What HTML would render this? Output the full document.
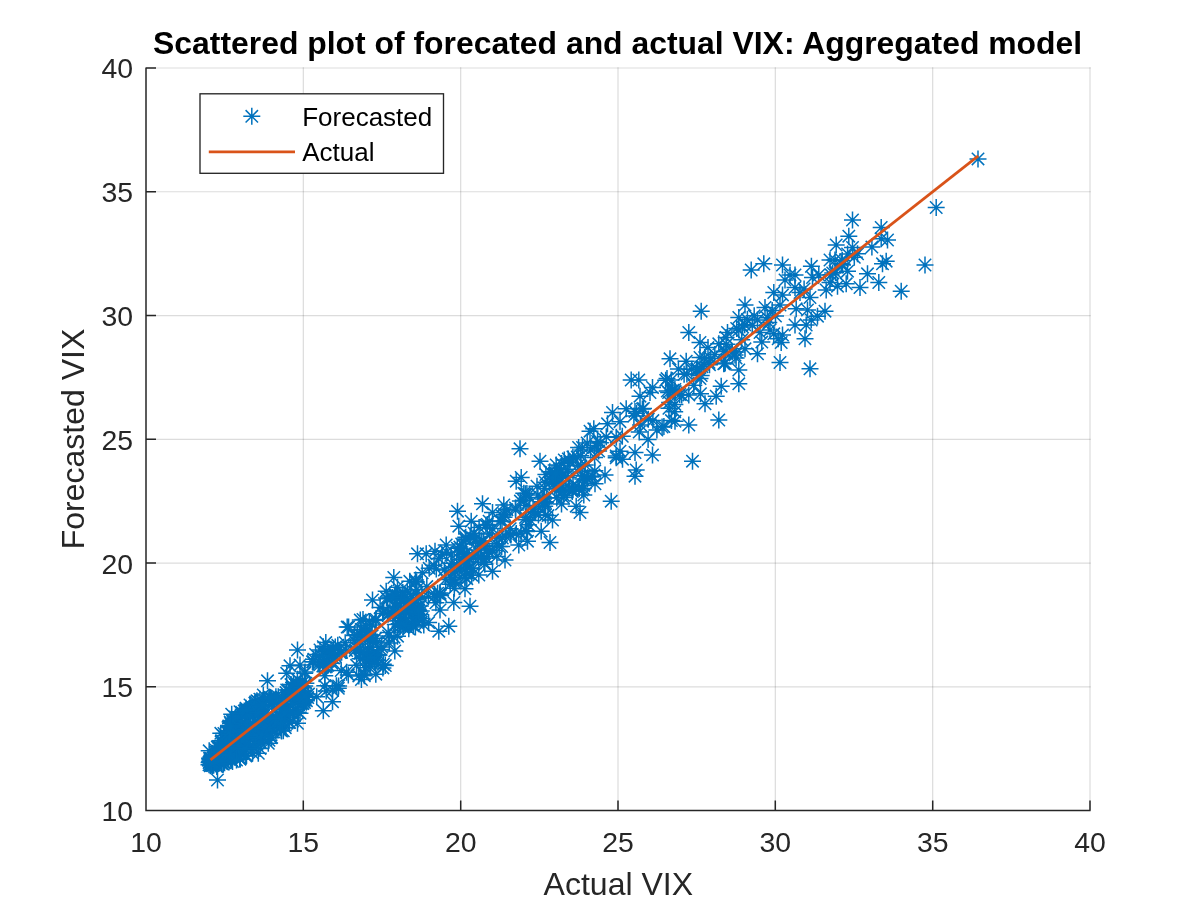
<!DOCTYPE html>
<html><head><meta charset="utf-8"><title>Scattered plot of forecated and actual VIX</title>
<style>html,body{margin:0;padding:0;background:#fff}body{width:1200px;height:911px;overflow:hidden}</style></head>
<body>
<svg width="1200" height="911" viewBox="0 0 1200 911" style="display:block" font-family="'Liberation Sans', Arial, Helvetica, sans-serif">
<defs><marker id="ast" markerUnits="userSpaceOnUse" markerWidth="20" markerHeight="20" refX="10" refY="10" viewBox="0 0 20 20" orient="0" overflow="visible"><path d="M1.5 10H18.5M10 1.5V18.5M3.8 3.8L16.2 16.2M3.8 16.2L16.2 3.8" stroke="#0072BD" stroke-width="1.5" fill="none"/></marker></defs>
<rect width="1200" height="911" fill="#fff"/>
<path d="M303.33 810.6V67.3M460.67 810.6V67.3M618.00 810.6V67.3M775.33 810.6V67.3M932.67 810.6V67.3M1090.00 810.6V67.3" stroke="#262626" stroke-opacity="0.16" stroke-width="1.2" fill="none"/>
<path d="M146.0 686.83H1090.7M146.0 563.07H1090.7M146.0 439.30H1090.7M146.0 315.53H1090.7M146.0 191.77H1090.7M146.0 68.00H1090.7" stroke="#262626" stroke-opacity="0.16" stroke-width="1.2" fill="none"/>
<path d="M146.0 67.4V810.6H1090.6M146.0 810.6v-10M146.0 810.6h10M303.3 810.6v-10M146.0 686.8h10M460.7 810.6v-10M146.0 563.1h10M618.0 810.6v-10M146.0 439.3h10M775.3 810.6v-10M146.0 315.5h10M932.7 810.6v-10M146.0 191.8h10M1090.0 810.6v-10M146.0 68.0h10" stroke="#262626" stroke-width="1.5" fill="none"/>
<polyline points="217.5,780.0 209.2,750.8 267.5,680.8 297.5,650.0 323.3,710.8 332.5,701.7 316.7,696.7 338.3,688.3 348.3,675.0 364.2,674.2 375.8,674.2 383.3,664.2 290.0,665.8 286.7,673.3 300.0,665.0 313.3,661.7 323.3,646.7 320.0,650.0 333.3,650.0 223.3,764.2 240.0,759.2 258.3,753.3 268.3,743.3 283.3,730.8 297.5,723.3 300.0,713.3 220.8,733.3 231.7,714.2 240.0,711.7 250.0,705.0 263.3,695.0 278.3,696.7 286.7,690.0 372.5,600.0 393.8,577.5 386.2,591.2 417.5,553.8 426.2,553.8 435.0,551.2 446.2,545.0 457.5,511.2 458.8,526.2 471.2,521.2 482.5,503.8 492.5,512.5 503.8,505.0 397.5,636.2 408.8,628.8 423.8,625.0 438.8,631.2 448.8,626.2 440.0,610.0 453.8,602.5 470.0,606.2 465.0,588.8 478.8,575.0 492.5,571.2 505.0,560.0 518.8,545.0 527.5,541.2 550.0,542.5 541.2,531.2 552.5,520.0 580.0,512.5 576.2,506.2 611.2,501.2 521.2,477.5 516.2,481.2 520.0,448.8 540.0,461.2 556.2,465.0 570.0,462.5 582.5,447.5 593.8,428.8 590.0,431.2 607.5,423.8 612.5,412.5 626.2,408.8 640.0,396.2 650.0,392.5 583.8,495.0 595.0,483.8 605.0,475.0 635.0,476.2 636.2,470.0 652.5,455.0 635.0,452.5 620.0,451.2 692.5,461.2 688.8,425.0 718.8,420.0 675.0,421.2 705.0,403.8 716.2,396.2 631.2,380.0 638.8,380.0 652.5,387.5 671.2,380.0 670.0,358.8 686.2,361.2 688.8,332.5 701.2,311.2 700.0,342.5 700.0,357.5 718.8,343.8 727.5,332.5 738.8,317.5 745.0,305.0 765.0,307.5 773.8,292.5 751.2,270.0 785.0,280.0 795.0,275.0 738.8,383.8 738.8,370.0 780.0,362.5 810.0,368.8 805.0,338.8 781.2,342.5 795.0,325.0 811.2,320.0 825.0,311.2 817.5,316.2 860.0,287.5 878.8,282.5 901.2,291.2 846.2,283.8 837.5,286.2 867.5,273.8 763.8,263.8 782.5,265.0 738.8,330.0 757.5,320.0 780.0,305.0 790.0,275.0 795.0,287.5 800.0,292.5 812.5,277.5 818.8,275.0 810.0,297.5 796.2,308.8 807.5,310.0 806.2,325.0 770.0,330.0 773.8,333.8 782.5,335.0 757.5,353.8 745.0,348.8 735.0,355.0 723.8,363.8 721.2,386.2 768.8,322.5 760.0,332.5 830.0,282.5 826.2,290.0 882.5,263.8 886.2,261.2 925.0,265.0 830.0,260.0 835.0,260.0 836.2,245.0 842.5,265.0 848.8,236.2 852.5,247.5 857.5,253.8 852.5,220.0 881.2,227.5 881.2,238.8 887.5,240.0 936.2,207.5 978.0,158.9 216.4,764.4 224.0,762.4 221.3,755.6 210.3,761.0 209.9,762.1 210.6,765.6 218.8,746.4 211.8,764.0 223.4,735.7 222.3,753.8 231.5,760.3 228.7,751.9 212.3,765.5 216.1,750.2 213.2,757.9 223.7,753.2 221.6,763.8 210.4,764.3 224.6,750.5 216.2,755.1 219.4,758.9 227.3,737.9 214.6,756.9 221.1,741.9 225.8,754.2 231.5,757.2 218.6,748.3 212.5,759.8 209.9,759.7 226.6,743.4 229.1,750.6 225.0,744.6 222.3,752.0 228.3,727.0 219.9,749.0 210.4,758.8 223.9,733.4 227.9,752.7 217.9,751.3 209.5,762.0 212.9,765.6 210.4,758.2 212.0,763.6 218.0,746.4 210.9,761.3 221.6,740.7 227.8,730.9 215.4,759.5 217.3,747.1 231.0,756.0 213.1,763.7 214.4,758.8 222.5,757.5 209.1,762.6 217.5,754.2 230.9,733.1 220.9,749.2 224.6,762.8 229.7,731.2 229.1,731.4 218.0,757.6 211.4,758.6 210.4,765.8 213.8,764.9 216.8,766.4 209.0,764.8 211.3,762.2 209.6,758.2 223.1,760.5 214.8,761.3 240.4,753.5 256.9,700.8 243.8,734.0 230.9,758.2 239.6,746.8 256.2,744.0 228.8,725.9 246.0,749.7 246.5,755.4 246.0,708.2 257.4,715.8 236.9,743.4 233.7,726.7 246.1,718.1 239.2,749.1 255.6,702.0 257.0,710.4 255.8,714.5 235.7,737.0 240.1,758.2 228.9,752.1 236.8,728.0 260.5,726.4 259.9,699.2 260.5,730.7 235.5,750.6 234.7,752.0 249.2,710.3 256.6,727.4 250.2,714.8 230.9,734.5 258.9,710.4 253.5,729.2 234.1,725.6 239.3,721.0 261.0,728.6 241.6,712.3 252.6,745.3 232.3,755.4 258.8,709.2 233.0,724.8 261.3,715.1 239.9,732.8 232.5,761.4 261.0,715.7 245.9,710.5 242.7,715.4 256.1,741.5 236.6,747.0 236.2,733.5 236.8,740.9 232.5,721.5 240.0,737.2 247.8,710.8 242.3,713.4 245.1,730.9 245.8,756.1 243.0,749.3 228.1,732.9 233.9,740.1 252.7,725.6 239.1,734.8 246.9,717.4 231.6,737.9 236.4,747.8 254.3,727.2 247.1,718.5 259.0,727.8 248.8,730.3 245.4,722.8 243.4,731.8 244.3,711.1 251.8,709.9 260.0,736.4 247.0,709.4 256.6,745.1 232.1,742.5 230.5,752.6 230.5,734.6 254.7,707.1 233.3,729.6 250.4,747.7 258.0,701.4 235.5,717.0 241.5,735.0 261.7,705.9 233.5,742.2 245.5,740.3 234.7,746.8 252.6,753.0 246.8,734.6 228.6,750.3 249.2,729.7 230.2,722.0 254.8,703.2 231.6,750.8 229.3,731.8 237.2,754.4 242.4,713.6 255.8,739.2 233.1,720.6 247.4,721.3 231.0,760.0 251.4,733.0 230.5,723.4 249.6,715.0 230.8,726.2 230.3,726.9 243.4,741.3 246.8,710.3 237.1,754.5 245.9,745.1 231.7,755.2 229.7,754.7 238.6,745.4 253.8,738.6 245.0,748.6 239.8,758.8 236.5,760.0 252.9,725.8 267.1,720.9 302.9,703.6 297.3,701.4 281.8,698.3 276.9,714.7 291.0,684.6 274.4,702.2 291.9,697.8 277.4,720.8 260.6,742.5 261.4,710.8 270.3,733.3 262.1,705.2 299.8,688.3 271.5,728.9 272.1,719.1 265.6,723.2 270.6,697.4 304.7,686.1 269.7,697.3 272.9,723.1 258.1,731.7 280.8,712.0 267.6,719.3 258.2,737.6 262.3,727.4 260.0,748.6 272.6,728.6 286.1,706.8 294.0,695.1 292.4,687.5 276.7,722.1 305.3,699.7 292.8,696.7 260.1,706.8 300.8,688.4 293.2,689.5 264.7,719.8 282.2,697.9 296.6,685.8 286.0,692.6 290.8,696.4 269.0,740.3 264.4,728.0 263.0,704.8 284.8,704.0 288.1,699.3 281.5,731.0 296.3,689.4 282.1,709.7 289.6,722.4 293.4,712.1 261.6,734.8 293.0,714.3 293.5,682.5 281.7,716.0 281.0,704.8 294.8,696.1 288.9,722.6 265.1,732.8 293.7,709.8 285.3,727.7 260.9,735.2 290.3,696.9 290.4,712.9 282.8,711.9 280.4,727.4 300.9,704.2 305.0,671.9 258.8,727.1 297.4,679.3 279.6,722.2 268.1,698.5 268.1,715.4 264.8,719.7 303.7,701.7 297.4,698.1 300.6,685.9 269.1,700.5 281.3,730.3 258.2,725.9 279.6,720.9 264.8,728.6 273.2,702.2 258.1,712.6 298.3,712.3 302.5,682.8 301.3,700.1 275.9,719.8 305.9,683.2 275.3,718.7 271.2,737.8 262.9,705.0 271.7,698.3 270.0,728.9 282.5,722.8 275.9,696.8 300.4,682.0 288.3,689.9 303.2,687.6 292.5,721.0 293.2,704.2 294.1,695.5 271.7,737.3 302.5,703.6 280.7,718.4 272.3,706.8 304.9,696.1 289.5,713.2 284.8,713.1 304.2,700.3 304.7,673.2 308.5,694.1 313.8,659.2 307.8,697.6 304.5,702.5 306.4,700.7 305.1,695.9 312.5,661.8 323.7,651.5 325.3,667.1 327.9,665.2 335.0,656.2 331.5,654.8 319.8,664.8 329.0,652.4 331.9,663.2 326.4,666.4 337.8,645.3 329.0,656.3 340.0,652.4 331.0,649.2 328.6,658.0 324.8,675.8 325.8,642.6 332.8,653.5 333.4,658.1 318.3,664.1 335.3,647.0 315.6,654.5 322.8,666.1 341.6,652.3 341.2,670.6 322.2,656.3 338.6,685.9 324.8,685.8 336.4,685.7 326.2,690.9 332.4,690.2 364.7,631.2 367.8,639.0 375.3,620.4 369.4,621.6 369.8,634.7 376.2,619.5 366.3,632.5 354.3,640.3 362.3,637.2 348.6,627.1 367.4,632.2 365.5,639.3 361.2,629.4 363.0,619.4 360.6,635.1 372.0,624.9 365.6,625.5 375.6,638.3 370.1,647.3 361.0,635.1 371.8,635.6 347.2,627.1 376.7,660.3 382.9,667.9 370.9,660.0 377.6,655.7 377.0,641.9 355.2,650.4 373.4,652.4 385.3,665.6 366.8,658.6 360.1,658.8 365.3,667.8 368.6,660.1 370.5,666.2 371.7,655.9 373.1,654.6 364.3,675.8 367.9,651.6 378.8,654.6 361.4,679.5 374.7,662.6 369.1,657.8 358.8,675.9 381.0,649.6 346.6,672.2 388.2,632.6 380.1,607.5 360.9,652.6 390.0,613.4 357.3,634.7 359.9,653.2 345.2,642.7 388.1,614.2 389.3,643.1 356.0,646.9 390.0,596.9 363.2,652.0 365.2,639.0 388.6,635.9 382.7,613.4 383.7,610.9 373.5,640.8 360.0,649.1 381.8,647.0 354.3,635.5 356.6,665.3 346.6,650.5 360.3,620.1 386.5,598.0 411.4,624.6 422.0,618.5 402.9,618.2 415.4,626.9 395.3,624.4 401.4,611.5 405.7,621.5 411.2,614.8 400.0,626.4 406.7,618.7 413.4,626.0 428.6,622.6 400.8,625.5 394.8,650.9 403.0,627.2 409.0,610.6 414.3,618.4 394.0,637.2 413.2,602.9 418.5,617.2 416.4,620.9 421.3,611.1 416.5,613.3 413.3,612.1 406.6,606.2 402.8,592.4 387.6,598.7 405.6,600.0 405.6,596.2 405.5,603.7 394.5,595.4 407.3,590.9 395.3,594.6 400.7,601.0 397.5,587.2 404.1,594.3 395.5,606.4 396.3,595.9 401.5,600.2 415.8,607.7 409.8,581.3 410.1,599.2 412.7,604.1 442.1,554.7 413.1,614.0 434.2,596.6 392.3,597.6 416.6,582.1 415.6,580.0 418.7,610.7 392.9,614.3 429.2,568.3 397.2,607.3 413.5,599.3 400.5,620.8 422.2,572.8 398.3,612.7 438.7,558.6 403.4,625.7 446.7,552.2 420.0,614.6 445.7,579.4 444.4,569.9 439.8,594.2 437.6,593.2 415.5,581.8 440.1,593.0 404.7,611.7 422.0,597.8 399.1,623.7 434.0,565.2 394.4,612.5 435.9,602.8 440.6,595.5 426.8,586.6 428.4,596.5 416.4,593.3 416.7,589.5 417.9,598.7 393.4,610.6 420.4,605.9 436.3,568.9 418.6,610.0 521.0,532.9 469.3,559.3 463.8,563.1 526.5,531.5 545.5,514.9 560.0,472.4 526.7,530.7 525.6,517.4 592.6,476.2 578.6,447.5 559.8,470.9 479.1,527.4 523.8,493.3 587.4,478.9 568.3,458.9 459.8,570.1 563.4,497.6 584.5,476.1 572.3,491.5 525.3,493.7 481.2,557.3 525.9,519.7 455.5,581.0 474.2,533.2 552.0,473.6 475.3,539.0 467.3,556.5 545.4,502.6 580.9,465.9 537.0,486.2 465.7,537.3 544.5,501.8 569.7,488.0 598.6,451.0 504.0,517.3 516.3,533.5 561.5,504.1 573.0,486.0 545.9,474.6 537.9,495.1 496.9,556.5 455.1,582.8 542.4,501.8 526.9,493.6 469.8,567.9 548.0,515.6 450.4,577.3 466.0,565.1 483.6,541.3 538.4,515.0 543.6,498.9 470.2,536.3 486.5,558.1 464.4,553.9 580.7,455.7 510.3,534.4 451.7,563.3 534.3,511.7 546.8,497.8 590.6,450.0 487.3,524.4 456.6,564.6 510.9,535.1 458.8,551.9 451.9,567.4 591.1,477.1 479.9,543.2 526.0,505.4 572.0,490.3 496.4,543.7 457.3,548.2 567.4,469.3 451.0,554.9 561.8,485.1 561.3,486.1 483.9,562.2 484.8,564.3 500.3,520.9 554.3,474.0 556.8,498.0 533.1,508.9 568.3,477.4 489.8,533.9 594.8,470.8 582.0,490.0 489.1,552.3 561.6,463.6 561.9,491.2 582.0,475.5 485.9,525.3 544.6,488.5 549.8,471.7 520.4,501.1 554.6,473.1 515.6,510.0 535.6,512.6 481.8,541.1 461.7,543.9 471.7,575.2 466.0,539.8 501.7,546.5 454.3,588.2 553.9,483.7 554.6,478.6 459.9,559.5 504.5,514.6 572.9,456.9 459.9,547.1 587.2,443.0 466.1,571.7 466.8,578.7 577.2,457.1 545.1,482.2 544.7,506.3 465.0,577.3 563.6,495.4 497.9,537.2 453.1,579.5 492.4,528.6 505.2,535.9 594.6,457.5 577.7,465.6 454.6,571.4 515.5,507.9 502.0,521.5 530.7,520.5 579.3,488.5 573.0,489.8 450.2,584.3 564.3,459.9 450.7,571.0 523.7,500.4 477.7,549.9 502.1,515.9 489.1,521.2 492.6,550.5 554.9,489.0 466.5,552.4 462.1,549.0 554.6,476.4 544.2,503.7 510.2,528.7 583.6,485.5 583.3,488.5 480.9,557.6 585.2,465.1 506.9,509.8 485.0,545.6 529.7,497.5 562.9,476.0 502.3,538.0 473.3,538.0 549.3,482.6 475.4,554.1 566.0,476.6 468.9,558.2 582.8,479.1 478.7,557.6 555.5,473.1 473.2,568.4 487.1,549.9 528.3,524.8 499.2,546.4 596.3,445.7 465.3,538.9 465.2,564.5 597.6,441.5 560.0,487.9 479.4,542.2 466.0,571.7 662.1,427.0 726.6,344.3 701.2,375.6 696.6,369.4 691.8,369.3 636.6,413.3 736.4,352.0 700.5,393.7 725.2,363.1 672.8,390.3 708.0,347.6 704.7,357.6 678.4,369.0 686.9,374.0 616.2,437.2 714.8,354.6 665.7,380.3 709.5,364.7 656.9,430.0 663.9,426.5 667.3,391.0 642.4,408.9 635.0,411.4 633.9,416.1 675.1,391.4 754.2,315.8 674.9,404.4 620.0,421.7 736.1,358.1 640.6,425.1 600.4,442.7 639.2,432.1 668.6,392.5 736.7,328.5 622.5,459.2 752.3,325.6 616.2,457.8 724.2,363.4 744.7,324.8 742.6,327.0 726.1,337.4 710.8,358.4 688.8,394.9 622.3,436.3 674.7,411.7 679.7,394.4 674.9,389.4 667.0,378.6 701.9,366.7 697.5,369.2 681.7,395.1 700.0,378.6 684.1,374.3 669.6,402.4 732.3,351.7 643.5,408.5 652.9,420.6 693.8,385.3 741.7,339.7 648.1,439.4 747.4,319.6 697.9,369.4 709.0,362.4 616.2,455.9 723.9,351.2 725.8,351.4 648.3,419.2 668.9,408.3 606.3,436.8 671.4,420.6 831.0,274.8 772.2,310.4 778.2,338.8 842.1,264.2 775.5,316.1 782.5,294.9 847.6,254.0 871.9,247.1 761.8,342.1 847.5,271.2 804.1,288.9 841.2,263.5 835.6,272.6 854.3,257.3 767.3,317.7 832.7,272.9 811.4,266.3 842.2,260.5" fill="none" stroke="none" marker-start="url(#ast)" marker-mid="url(#ast)" marker-end="url(#ast)"/>
<path d="M210.5 759.9L978.3 155.9" stroke="#D95319" stroke-width="2.75" stroke-linecap="butt" fill="none"/>
<text x="146.0" y="852.2" font-size="28.4" fill="#262626" text-anchor="middle">10</text>
<text x="133.0" y="821.0" font-size="28.4" fill="#262626" text-anchor="end">10</text>
<text x="303.3" y="852.2" font-size="28.4" fill="#262626" text-anchor="middle">15</text>
<text x="133.0" y="697.2" font-size="28.4" fill="#262626" text-anchor="end">15</text>
<text x="460.7" y="852.2" font-size="28.4" fill="#262626" text-anchor="middle">20</text>
<text x="133.0" y="573.5" font-size="28.4" fill="#262626" text-anchor="end">20</text>
<text x="618.0" y="852.2" font-size="28.4" fill="#262626" text-anchor="middle">25</text>
<text x="133.0" y="449.7" font-size="28.4" fill="#262626" text-anchor="end">25</text>
<text x="775.3" y="852.2" font-size="28.4" fill="#262626" text-anchor="middle">30</text>
<text x="133.0" y="325.9" font-size="28.4" fill="#262626" text-anchor="end">30</text>
<text x="932.7" y="852.2" font-size="28.4" fill="#262626" text-anchor="middle">35</text>
<text x="133.0" y="202.2" font-size="28.4" fill="#262626" text-anchor="end">35</text>
<text x="1090.0" y="852.2" font-size="28.4" fill="#262626" text-anchor="middle">40</text>
<text x="133.0" y="78.4" font-size="28.4" fill="#262626" text-anchor="end">40</text>
<text x="618.3" y="895" font-size="32" fill="#262626" text-anchor="middle">Actual VIX</text>
<text transform="translate(84.3 439) rotate(-90)" font-size="32" fill="#262626" text-anchor="middle">Forecasted VIX</text>
<text x="617.6" y="54.4" font-size="31.9" font-weight="bold" fill="#000" text-anchor="middle">Scattered plot of forecated and actual VIX: Aggregated model</text>
<rect x="200" y="93.8" width="243.5" height="79.5" fill="#fff" stroke="#262626" stroke-width="1.35"/>
<path transform="translate(241.8 106.3)" d="M1.5 10H18.5M10 1.5V18.5M3.8 3.8L16.2 16.2M3.8 16.2L16.2 3.8" stroke="#0072BD" stroke-width="1.5" fill="none"/>
<path d="M208.8 151.8H295" stroke="#D95319" stroke-width="2.75" fill="none"/>
<text x="302.2" y="125.8" font-size="26" fill="#000">Forecasted</text>
<text x="302.2" y="161.3" font-size="26" fill="#000">Actual</text>
</svg>
</body></html>
